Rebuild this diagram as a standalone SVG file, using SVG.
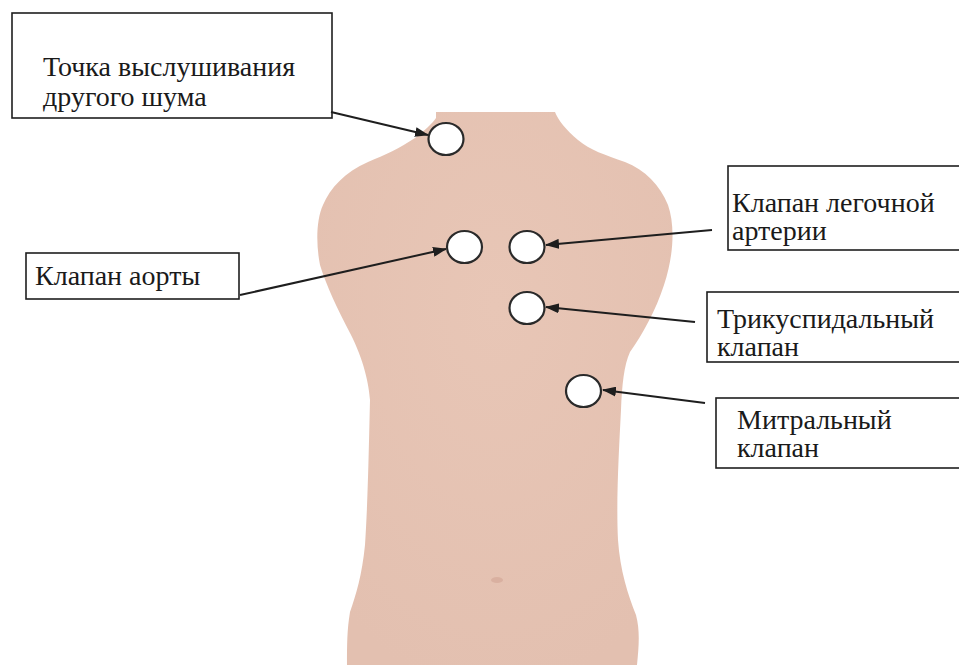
<svg xmlns="http://www.w3.org/2000/svg" width="959" height="665" viewBox="0 0 959 665">
  <style>
    .box { fill: #ffffff; stroke: #1e1e1e; stroke-width: 1.6; }
    .label { font-family: "Liberation Serif", "Times New Roman", serif; font-size: 28px; fill: #1a1a1a; }
    .point { fill: #ffffff; stroke: #2a2a2a; stroke-width: 2.2; }
    .lead { fill: none; stroke: #1e1e1e; stroke-width: 2; marker-end: url(#head); }
  </style>
  <defs>
    <marker id="head" viewBox="0 0 14 10" refX="13" refY="5" markerWidth="14" markerHeight="10" markerUnits="userSpaceOnUse" orient="auto">
      <path d="M0,0 L14,5 L0,10 Z" fill="#1e1e1e"/>
    </marker>
    <radialGradient id="skin" cx="0.5" cy="0.35" r="0.7">
      <stop offset="0" stop-color="#e8c6b6"/>
      <stop offset="1" stop-color="#e3c0b0"/>
    </radialGradient>
  </defs>

  <rect width="959" height="665" fill="#ffffff"/>

  <!-- torso silhouette -->
  <g id="torso">
    <path fill="url(#skin)" d="M436,112 L555,112
      C558,120 566,130 578,140 C590,150 605,155 625,162
      C645,170 660,185 668,205 C675,225 674,255 664,285
      C656,310 642,335 630,352 C624,365 622,385 621,410
      C619,450 616,500 618,540 C620,570 628,595 636,615
      C640,630 639,645 637,665 L347,665
      C347,645 347,630 350,612 C356,595 362,575 365,545
      C368,500 369,440 370,400 C369,385 364,360 350,333
      C338,310 326,285 320,265 C316,245 316,220 323,205
      C330,188 345,172 368,162 C385,155 400,148 415,138
      C425,130 432,124 436,118 Z"/>
    <!-- navel -->
    <ellipse cx="497" cy="580" rx="6" ry="3" fill="#d4a898" opacity="0.7"/>
  </g>

  <!-- auscultation points -->
  <g id="point-extra"><ellipse class="point" cx="446" cy="139" rx="17.5" ry="16"/></g>
  <g id="point-aortic"><ellipse class="point" cx="464.5" cy="247" rx="17.5" ry="16"/></g>
  <g id="point-pulmonary"><ellipse class="point" cx="527" cy="247" rx="17.5" ry="16"/></g>
  <g id="point-tricuspid"><ellipse class="point" cx="527" cy="308" rx="17.5" ry="16"/></g>
  <g id="point-mitral"><ellipse class="point" cx="583.5" cy="391" rx="17.5" ry="16"/></g>

  <!-- label boxes -->
  <g id="label-extra">
    <rect class="box" x="12" y="13" width="320" height="105"/>
    <text class="label" x="43" y="76">Точка выслушивания</text>
    <text class="label" x="43" y="106">другого шума</text>
  </g>
  <g id="label-aortic">
    <rect class="box" x="26" y="253" width="213" height="46"/>
    <text class="label" x="35" y="285">Клапан аорты</text>
  </g>
  <g id="label-pulmonary">
    <rect class="box" x="728" y="166" width="240" height="84"/>
    <text class="label" x="732" y="212">Клапан легочной</text>
    <text class="label" x="732" y="240">артерии</text>
  </g>
  <g id="label-tricuspid">
    <rect class="box" x="707" y="292" width="260" height="70"/>
    <text class="label" x="717" y="328">Трикуспидальный</text>
    <text class="label" x="717" y="356">клапан</text>
  </g>
  <g id="label-mitral">
    <rect class="box" x="716" y="398" width="250" height="70"/>
    <text class="label" x="737" y="429">Митральный</text>
    <text class="label" x="737" y="457">клапан</text>
  </g>

  <!-- leader arrows -->
  <g id="connectors">
    <line class="lead" x1="331" y1="112" x2="428" y2="135"/>
    <line class="lead" x1="240" y1="295" x2="446" y2="249"/>
    <line class="lead" x1="712" y1="230" x2="546" y2="245"/>
    <line class="lead" x1="695" y1="322" x2="546" y2="307"/>
    <line class="lead" x1="705" y1="403" x2="603" y2="390"/>
  </g>
</svg>
